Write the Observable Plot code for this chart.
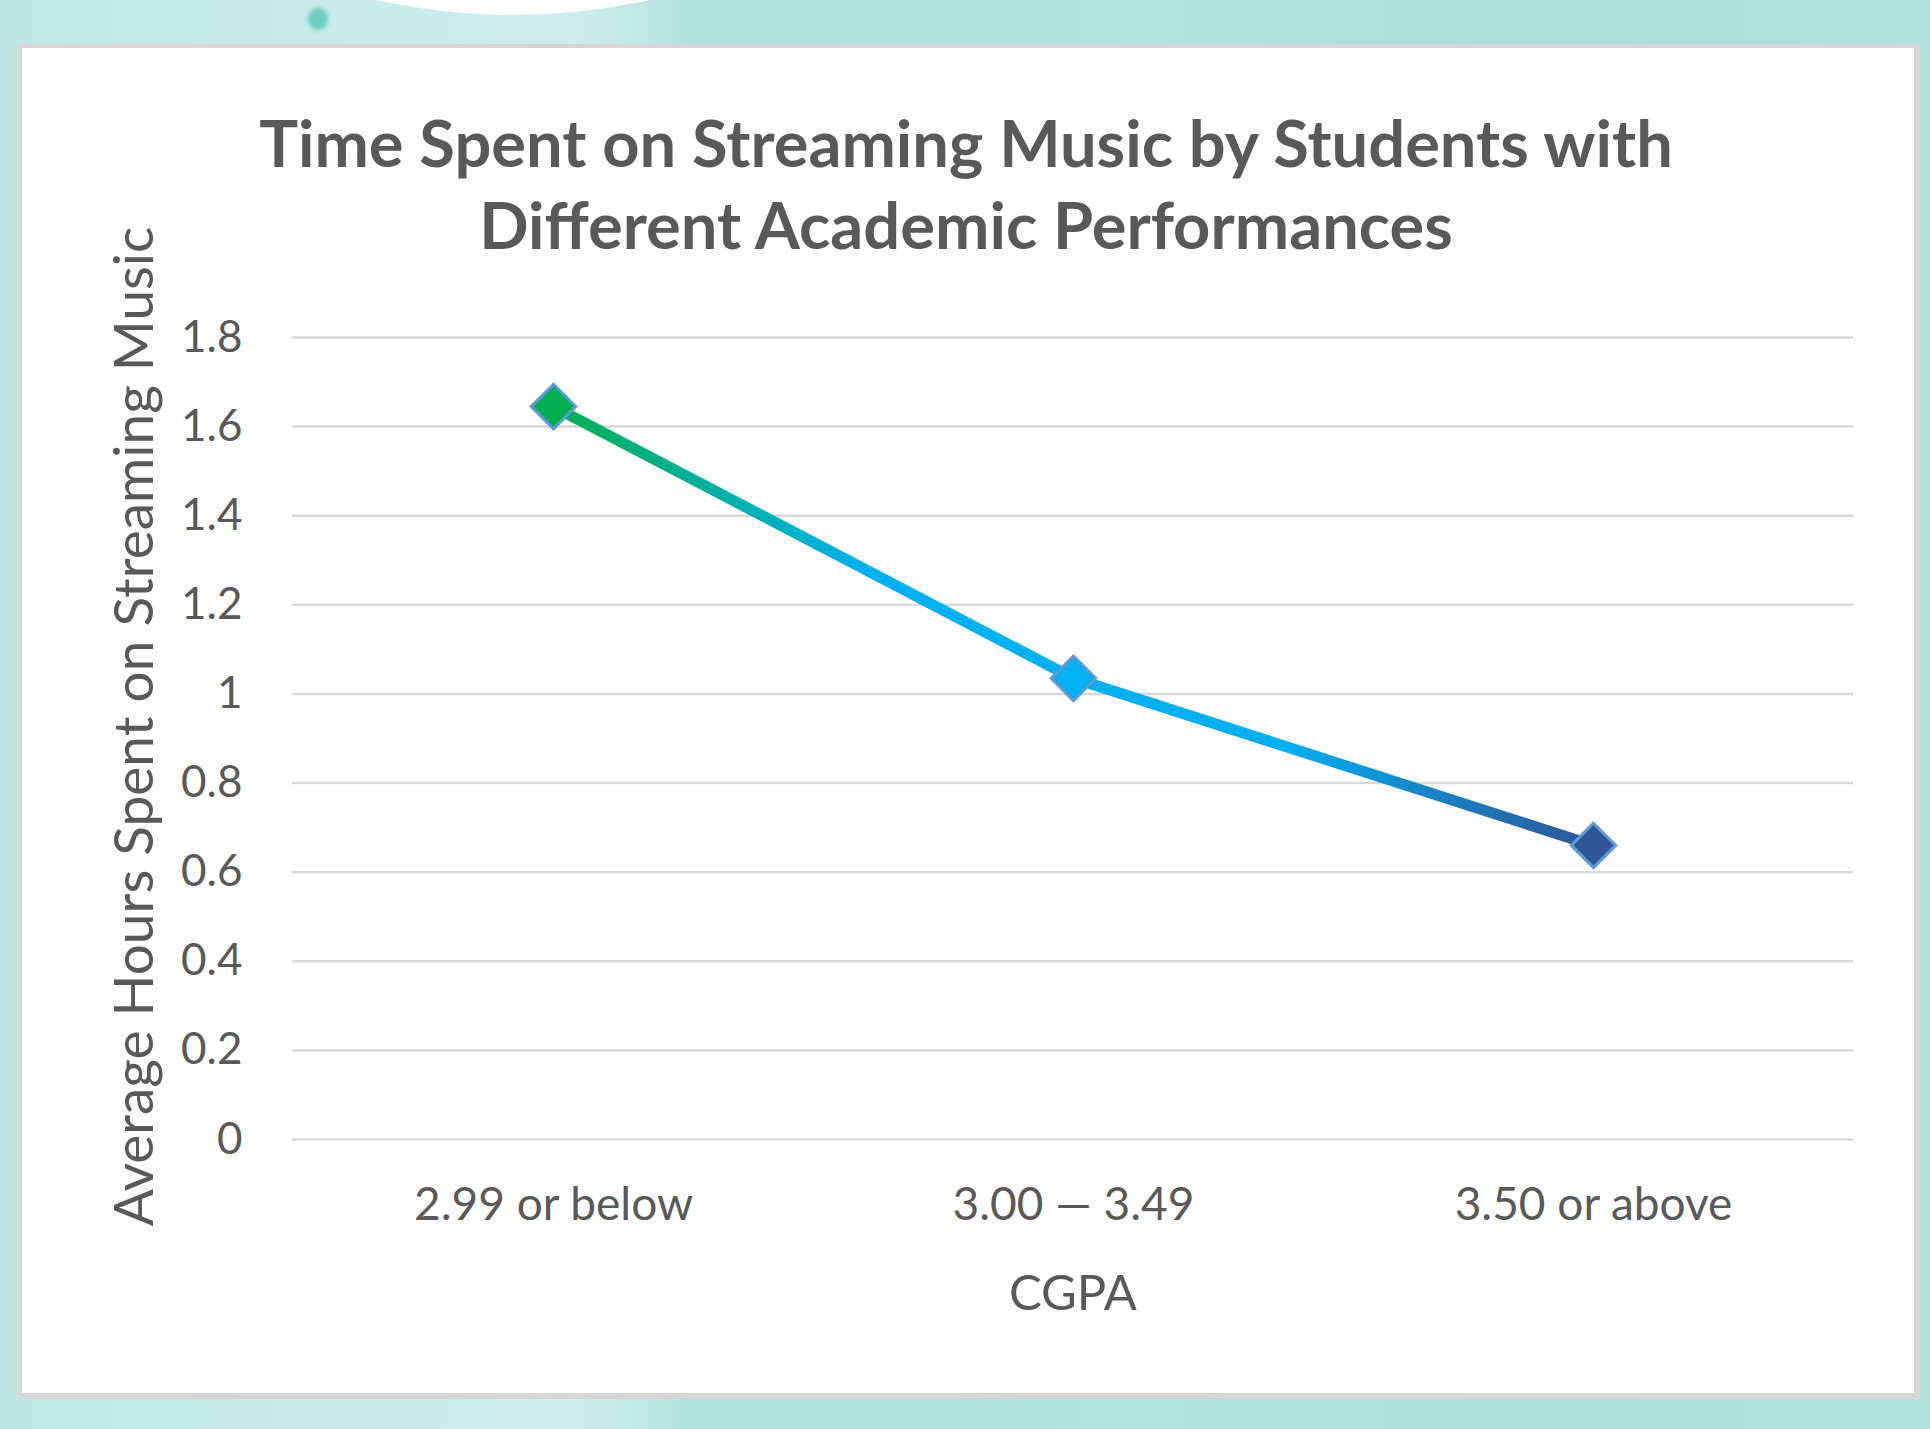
<!DOCTYPE html>
<html>
<head>
<meta charset="utf-8">
<script src="https://cdn.jsdelivr.net/npm/d3@7"></script>
<script src="https://cdn.jsdelivr.net/npm/@observablehq/plot@0.6"></script>
<style>
  html, body { margin: 0; padding: 0; }
  body {
    width: 1930px; height: 1429px; overflow: hidden; position: relative;
    background: linear-gradient(90deg, #bde6e2 0%, #cbedea 22%, #cdeeeb 30%, #b2e2de 36%, #b6e4e0 60%, #acdfda 80%, #b4e3df 100%);
    font-family: Lato, "Open Sans", sans-serif;
  }
  #blob { position: absolute; left: -120px; top: -1251px; width: 1266px; height: 1266px; border-radius: 50%; background: #ffffff; }
  #dot { position: absolute; left: 308px; top: 8px; width: 20px; height: 22px; border-radius: 50%; background: #6ccbc2; filter: blur(2px); }
  #card {
    position: absolute; left: 18px; top: 44px; width: 1902px; height: 1355px; box-sizing: border-box;
    background: #ffffff; border: 4px solid #d7d7d7; border-right-width: 6px; border-bottom-width: 6px;
  }
  #title {
    position: absolute; left: 0; width: 1932px; top: 101px; text-align: center;
    font-family: Lato, sans-serif; font-weight: 700; font-size: 65px; line-height: 82px; color: #595959;
  }
  #chart { position: absolute; left: 0; top: 0; }
</style>
</head>
<body>
<div id="blob"></div>
<div id="dot"></div>
<div id="card"></div>
<div id="title">Time Spent on Streaming Music by Students with<br>Different Academic Performances</div>
<div id="chart"></div>
<script>
// ---- data ----
const categories = ["2.99 or below", "3.00 — 3.49", "3.50 or above"];
const hours = [1.645, 1.035, 0.66];
const markerColors = ["#00b050", "#00b0f0", "#2f5597"];
const yTicks = [0, 0.2, 0.4, 0.6, 0.8, 1, 1.2, 1.4, 1.6, 1.8];
const xLabel = "CGPA";
const yLabel = "Average Hours Spent on Streaming Music";

const data = categories.map((c, i) => ({cgpa: c, hours: hours[i], color: markerColors[i]}));

const W = 1930, H = 1429;
const textColor = "#595959";

const chart = Plot.plot({
  width: W,
  height: H,
  marginLeft: 292,
  marginRight: 77,
  marginTop: 337,
  marginBottom: 290,
  style: {background: "transparent", fontFamily: "Lato, sans-serif", color: textColor, overflow: "visible"},
  x: {type: "point", domain: categories, padding: 0.5},
  y: {domain: [0, 1.8]},
  marks: [
    Plot.ruleY(yTicks, {stroke: "#d9d9d9", strokeWidth: 2.5}),
    Plot.axisY({ticks: yTicks, tickSize: 0, tickPadding: 50, tickFormat: d3.format("~g"), fontSize: 44, label: null, fill: textColor}),
    Plot.axisX({tickSize: 0, tickPadding: 48, fontSize: 46, label: null, fill: textColor}),
    Plot.text([xLabel], {frameAnchor: "bottom", dy: 155, lineAnchor: "middle", fontSize: 49, fill: textColor}),
    Plot.text([yLabel], {frameAnchor: "left", dx: -157, dy: -12, rotate: -90, textAnchor: "middle", lineAnchor: "middle", fontSize: 55, fill: textColor}),
    Plot.line(data, {x: "cgpa", y: "hours", stroke: "url(#lineGrad)", strokeWidth: 11, strokeLinejoin: "round", strokeLinecap: "butt"}),
    Plot.dot(data, {x: "cgpa", y: "hours", symbol: "diamond2", r: 20, fill: "color", stroke: "#5b9bd5", strokeWidth: 3})
  ]
});

// gradient for the line, positioned from the x scale
const xs = chart.scale("x");
const x0 = xs.apply(categories[0]);
const x1 = xs.apply(categories[categories.length - 1]);
const svg = d3.select(chart);
const defs = svg.insert("defs", ":first-child");
const grad = defs.append("linearGradient")
  .attr("id", "lineGrad")
  .attr("gradientUnits", "userSpaceOnUse")
  .attr("x1", x0).attr("x2", x1).attr("y1", 0).attr("y2", 0);
[[0, "#00b050"], [0.3, "#00b0f0"], [0.7, "#00b0f0"], [1, "#2f5597"]].forEach(([o, c]) => {
  grad.append("stop").attr("offset", o).attr("stop-color", c);
});

document.getElementById("chart").appendChild(chart);
</script>
</body>
</html>
